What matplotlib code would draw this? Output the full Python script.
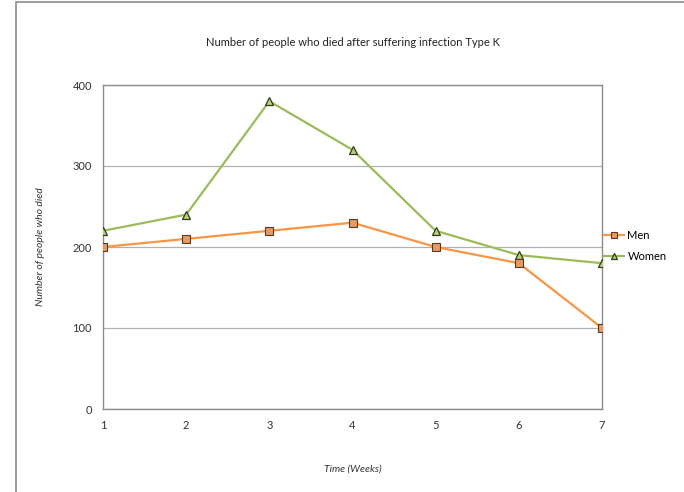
import matplotlib.pyplot as plt
from matplotlib.patches import Rectangle

weeks = [1, 2, 3, 4, 5, 6, 7]
men = [200, 210, 220, 230, 200, 180, 100]
women = [220, 240, 380, 320, 220, 190, 180]
y_ticks = [0, 100, 200, 300, 400]

plt.rcParams['font.family'] = ['Lato', 'DejaVu Sans']

fig = plt.figure(figsize=(6.84, 4.92), dpi=100)

# outer chart border
fig.patches.append(Rectangle((16 / 684, -0.01), 1.0, 1 - 2 / 492 + 0.01,
                             transform=fig.transFigure, fill=False,
                             edgecolor='#8c8c8c', linewidth=1.2))

ax = fig.add_axes([103 / 684, 1 - 409 / 492, (602 - 103) / 684, (409 - 85) / 492])

ax.plot(weeks, women, color='#9BBB59', linewidth=1.6, marker='^', markersize=5.5,
        markerfacecolor='#b7cf7e', markeredgecolor='#2f3d14', markeredgewidth=0.9,
        label='Women', zorder=3)
ax.plot(weeks, men, color='#F79646', linewidth=1.6, marker='s', markersize=5.5,
        markerfacecolor='#e69a64', markeredgecolor='#5a3a1e', markeredgewidth=0.8,
        label='Men', zorder=4)

ax.set_xlim(1, 7)
ax.set_ylim(0, 400)
ax.set_xticks(weeks)
ax.set_yticks(y_ticks)
ax.yaxis.grid(True, color='#b0b0b0', linewidth=0.9)
ax.set_axisbelow(True)
for s in ax.spines.values():
    s.set_color('#8c8c8c')
    s.set_linewidth(1.0)
ax.tick_params(axis='both', length=0, labelsize=8, colors='#333333')
ax.tick_params(axis='x', pad=8)
ax.tick_params(axis='y', pad=8)

ax.set_title('Number of people who died after suffering infection Type K',
             fontsize=8, pad=28, color='#222222')
ax.set_xlabel('Time (Weeks)', fontsize=7.5, style='italic', labelpad=24, color='#333333')
ax.set_ylabel('Number of people who died', fontsize=7.5, style='italic', labelpad=20,
              color='#333333')

handles, labels = ax.get_legend_handles_labels()
fig.legend(handles[::-1], labels[::-1], loc='center left',
           bbox_to_anchor=(604 / 684, 1 - 246 / 492), frameon=False,
           fontsize=8, handlelength=1.8, handletextpad=0.3, labelspacing=0.9,
           borderaxespad=0, borderpad=0, markerscale=0.85)

fig.savefig('out.png', dpi=100)
